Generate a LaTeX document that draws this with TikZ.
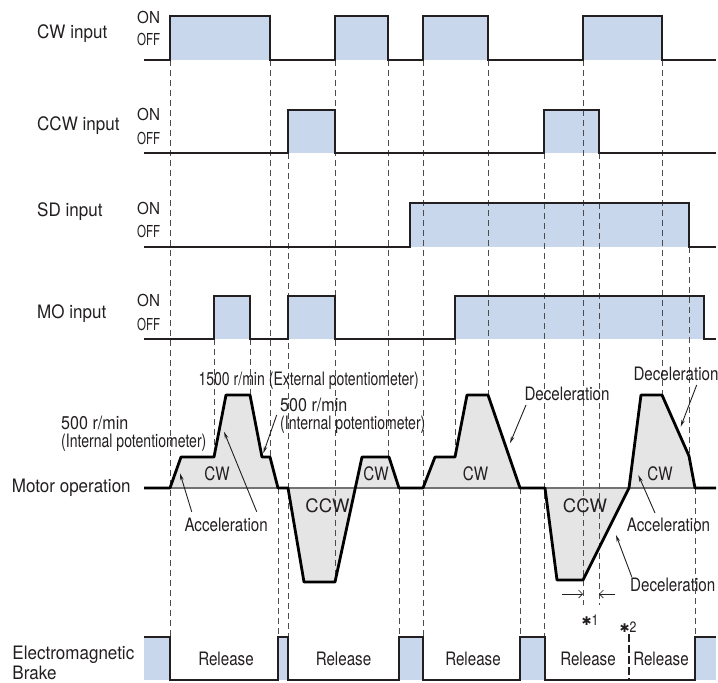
\documentclass[tikz,border=0pt]{standalone}
\usepackage{fontspec}
\setmainfont{TeX Gyre Heros}[FakeStretch=0.82]
\newfontfamily\widefont{TeX Gyre Heros}[FakeStretch=0.92]
\newfontfamily\fullfont{TeX Gyre Heros}
\newfontfamily\potfont{TeX Gyre Heros}[FakeStretch=0.76]
\newfontfamily\numfont{TeX Gyre Heros}[FakeStretch=0.87]
\newfontfamily\offfont{TeX Gyre Heros}[FakeStretch=0.70]
\newfontfamily\symfont{DejaVu Sans}
\usetikzlibrary{arrows.meta,calc}
\definecolor{sigblue}{RGB}{200,215,236}
\definecolor{motgray}{RGB}{229,229,229}
\definecolor{linecol}{RGB}{35,31,32}
\begin{document}
\begin{tikzpicture}[x=1pt,y=-1pt,
  sig/.style={line width=2pt, draw=linecol},
  guide/.style={draw=black!70, line width=0.9pt, dash pattern=on 6pt off 4pt},
  lbl/.style={font=\widefont\fontsize{18.5}{20}\selectfont, inner sep=0pt, anchor=base west, text=linecol},
  onoff/.style={font=\widefont\fontsize{16.5}{18}\selectfont, inner sep=0pt, anchor=base west, text=linecol},
  txt/.style={font=\fontsize{18.5}{20}\selectfont, inner sep=0pt, text=linecol},
  prof/.style={line width=2.8pt, draw=black, line join=round},
  ann/.style={draw=linecol, line width=0.9pt, -{Stealth[length=7pt,width=3.5pt]}},
  dim/.style={draw=linecol, line width=0.6pt, -{Straight Barb[length=4pt,width=8pt]}}
]
\useasboundingbox (0,0) rectangle (718,683);

% ---------- fills ----------
\foreach \a/\b in {170/270,335/388,423/488,583/662} \fill[sigblue] (\a,16) rectangle (\b,60);
\foreach \a/\b in {288/335,544/599} \fill[sigblue] (\a,110) rectangle (\b,153);
\fill[sigblue] (410,203) rectangle (689,247);
\foreach \a/\b in {214/250,288/335,455/704} \fill[sigblue] (\a,296) rectangle (\b,339);
\foreach \a/\b in {144/170,278/288,399/423,520/545,695/716} \fill[sigblue] (\a,637) rectangle (\b,680);

% motor fill
\fill[motgray] (144,488) -- (170,488) -- (181,457) -- (214,457) -- (226,395) -- (250,395)
  -- (262,457) -- (270,457) -- (278,488) -- (288,488) -- (304,582) -- (335,582)
  -- (362,457) -- (389,457) -- (399,488) -- (423,488) -- (435,457) -- (455,457)
  -- (467,395) -- (488,395) -- (520,488) -- (545,488) -- (557,580) -- (583,580)
  -- (629,488) -- (641,395) -- (662,395) -- (689,456) -- (695,488) -- (716,488) -- cycle;
\draw[draw=black!55, line width=1.2pt] (144,488) -- (716,488);

% ---------- dashed guides ----------
\foreach \x/\ya/\yb in {170/60/637, 214/339/457, 250/339/395, 270/60/457, 278/488/637,
  288/153/637, 335/60/582, 388/60/457, 399/488/637, 423/60/637, 455/339/457, 488/60/395,
  520/488/637, 544.5/153/637, 583/60/605, 599/153/605, 662/60/395, 689/247/456, 695/488/637}
  \draw[guide] (\x,\ya) -- (\x,\yb);
\draw[draw=linecol, line width=1.6pt, dash pattern=on 8pt off 3pt] (629,634) -- (629,680);

% ---------- signal lines ----------
\draw[sig] (144,60) -- (170,60) -- (170,16) -- (270,16) -- (270,60) -- (335,60) -- (335,16)
  -- (388,16) -- (388,60) -- (423,60) -- (423,16) -- (488,16) -- (488,60) -- (583,60)
  -- (583,16) -- (662,16) -- (662,60) -- (716,60);
\draw[sig] (144,153) -- (288,153) -- (288,110) -- (335,110) -- (335,153) -- (544,153)
  -- (544,110) -- (599,110) -- (599,153) -- (716,153);
\draw[sig] (144,247) -- (410,247) -- (410,203) -- (689,203) -- (689,247) -- (716,247);
\draw[sig] (144,339) -- (214,339) -- (214,296) -- (250,296) -- (250,339) -- (288,339)
  -- (288,296) -- (335,296) -- (335,339) -- (455,339) -- (455,296) -- (704,296)
  -- (704,339) -- (716,339);
\draw[sig] (144,637) -- (170,637) -- (170,680) -- (278,680) -- (278,637) -- (288,637)
  -- (288,680) -- (399,680) -- (399,637) -- (423,637) -- (423,680) -- (520,680)
  -- (520,637) -- (545,637) -- (545,680) -- (695,680) -- (695,637) -- (716,637);

% motor profile
\draw[prof] (144,488) -- (170,488) -- (181,457) -- (214,457) -- (226,395) -- (250,395)
  -- (262,457) -- (270,457) -- (278,488) -- (288,488) -- (304,582) -- (335,582)
  -- (362,457) -- (389,457) -- (399,488) -- (423,488) -- (435,457) -- (455,457)
  -- (467,395) -- (488,395) -- (520,488) -- (545,488) -- (557,580) -- (583,580)
  -- (629,488) -- (641,395) -- (662,395) -- (689,456) -- (695,488) -- (716,488);

% ---------- left labels ----------
\node[lbl] (cwin)  at (37,38.3)  {CW input};
\node[lbl] (ccwin) at (37,130)   {CCW input};
\node[lbl] (sdin)  at (37,216.7) {SD input};
\node[lbl] (moin)  at (37,318.3) {MO input};
\node[lbl] (motop) at (11.7,492.7) {Motor operation};
\node[lbl] (emb1)  at (12.3,659.5) {Electromagnetic};
\node[lbl] (emb2)  at (12.3,679.5) {Brake};

\foreach \n/\yon/\yoff in {a/23.3/45, b/120.5/144, c/214/237.7, d/306.7/330} {
  \node[onoff] (on\n)  at (137,\yon)  {ON};
  \node[onoff, font=\offfont\fontsize{16.5}{18}\selectfont] (off\n) at (137,\yoff) {OFF};
}

% ---------- motor annotations ----------
\node[txt, anchor=base west, font=\numfont\fontsize{18.5}{20}\selectfont] (l500a) at (61,429) {500 r/min};
\node[txt, anchor=base west, font=\potfont\fontsize{18.5}{20}\selectfont] (l500b) at (61,447.5) {(Internal potentiometer)};
\node[txt, anchor=base west, font=\potfont\fontsize{18.5}{20}\selectfont] (l1500) at (198.3,385) {1500 r/min (External potentiometer)};
\node[txt, anchor=base west, font=\numfont\fontsize{18.5}{20}\selectfont] (r500a) at (280,411.5) {500 r/min};
\node[txt, anchor=base west, font=\potfont\fontsize{18.5}{20}\selectfont] (r500b) at (280,429.5) {(Internal potentiometer)};

\node[txt] (cw1)  at (217,474)   {CW};
\node[txt] (cw2)  at (376,473.5) {CW};
\node[txt] (cw3)  at (475.5,474) {CW};
\node[txt] (cw4)  at (660,474)   {CW};
\node[txt, font=\fullfont\fontsize{18.5}{20}\selectfont] (ccw1) at (327.5,505.5) {CCW};
\node[txt, font=\fullfont\fontsize{18.5}{20}\selectfont] (ccw2) at (585,505.5)   {CCW};

\node[txt, anchor=base west] (acc1) at (184.3,531) {Acceleration};
\node[txt, anchor=base west] (dec1) at (524.3,400) {Deceleration};
\node[txt, anchor=base west] (dec2) at (633.3,380) {Deceleration};
\node[txt, anchor=base west] (acc2) at (626.7,531) {Acceleration};
\node[txt, anchor=base west] (dec3) at (630,591.7) {Deceleration};

\coordinate (a1s) at (191.7,511.7); \coordinate (a1e) at (180,473.3);
\coordinate (a2s) at (256.7,511.7); \coordinate (a2e) at (224,431.7);
\coordinate (r5s) at (276.7,415);   \coordinate (r5e) at (263.3,453.3);
\coordinate (d1s) at (526,405);     \coordinate (d1e) at (510,443.3);
\coordinate (d2s) at (696.7,385);   \coordinate (d2e) at (680.7,426.7);
\coordinate (a3s) at (655,513);     \coordinate (a3e) at (638.3,475);
\coordinate (d3s) at (631.7,576.7); \coordinate (d3e) at (616,535);
\draw[ann] (a1s) -- (a1e);
\draw[ann] (a2s) -- (a2e);
\draw[ann] (r5s) -- (r5e);
\draw[ann] (d1s) -- (d1e);
\draw[ann] (d2s) -- (d2e);
\draw[ann] (a3s) -- (a3e);
\draw[ann] (d3s) -- (d3e);

% ---------- *1 dimension ----------
\coordinate (m1a) at (562,594); \coordinate (m1b) at (583,594);
\coordinate (m2a) at (615,594); \coordinate (m2b) at (599,594);
\draw[dim] (m1a) -- (m1b);
\draw[dim] (m2a) -- (m2b);
\node[txt, font=\fontsize{15}{16}\selectfont] (ast1) at (590,620) {{\symfont\fontsize{12}{14}\selectfont ✱}1};
\node[txt, font=\fontsize{15}{16}\selectfont] (ast2) at (628,627) {{\symfont\fontsize{12}{14}\selectfont ✱}2};

% ---------- brake labels ----------
\foreach \n/\x in {1/226,2/343.5,3/473,4/588,5/661}
  \node[txt, anchor=base] (rel\n) at (\x,665) {Release};
\end{tikzpicture}
\end{document}
